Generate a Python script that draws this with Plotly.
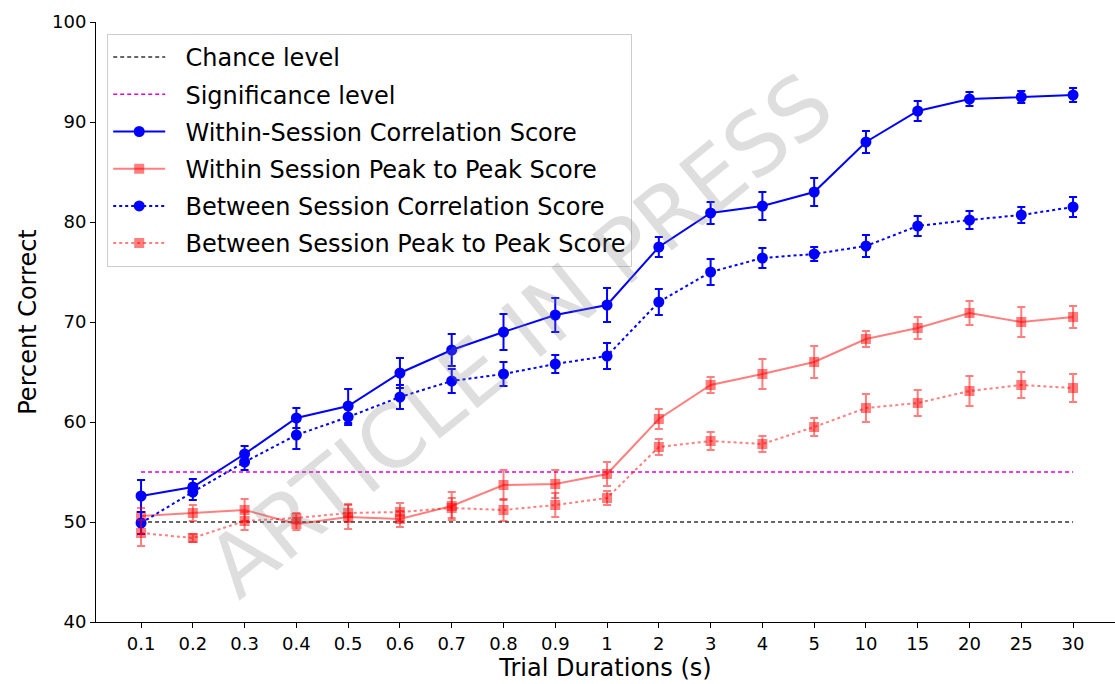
import plotly.graph_objects as go

durations = ["0.1", "0.2", "0.3", "0.4", "0.5", "0.6", "0.7", "0.8", "0.9", "1",
             "2", "3", "4", "5", "10", "15", "20", "25", "30"]

within_corr = [52.6, 53.5, 56.8, 60.4, 61.6, 64.9, 67.2, 69.0, 70.7, 71.7,
               77.5, 80.9, 81.6, 83.0, 88.0, 91.1, 92.3, 92.5, 92.7]
within_corr_err = [1.6, 0.8, 0.8, 1.0, 1.7, 1.5, 1.6, 1.8, 1.7, 1.7,
                   1.0, 1.1, 1.4, 1.4, 1.1, 1.0, 0.7, 0.6, 0.7]

within_p2p = [50.6, 50.9, 51.2, 49.8, 50.5, 50.3, 51.6, 53.7, 53.8, 54.8,
              60.3, 63.7, 64.8, 66.0, 68.3, 69.4, 70.9, 70.0, 70.5]
within_p2p_err = [0.8, 0.8, 1.1, 0.6, 1.2, 0.8, 1.4, 1.5, 1.4, 1.2,
                  1.0, 0.8, 1.5, 1.6, 0.8, 1.1, 1.2, 1.5, 1.1]

between_corr = [49.9, 53.0, 56.0, 58.7, 60.5, 62.5, 64.1, 64.8, 65.8, 66.6,
                72.0, 75.0, 76.4, 76.8, 77.6, 79.6, 80.2, 80.7, 81.5]
between_corr_err = [1.1, 0.8, 0.8, 1.4, 0.8, 1.2, 1.2, 1.2, 0.9, 1.3,
                    1.3, 1.3, 1.0, 0.7, 1.1, 1.0, 0.9, 0.8, 1.0]

between_p2p = [48.9, 48.4, 50.1, 50.4, 50.9, 51.0, 51.4, 51.2, 51.7, 52.4,
               57.5, 58.1, 57.8, 59.5, 61.4, 61.9, 63.1, 63.7, 63.4]
between_p2p_err = [1.3, 0.4, 0.9, 0.5, 0.9, 0.9, 1.0, 1.1, 1.2, 0.7,
                   0.8, 0.9, 0.8, 0.9, 1.4, 1.3, 1.5, 1.3, 1.4]

chance_level = 50
significance_level = 55

xs = list(range(len(durations)))
blue = "rgb(0,0,255)"
red = "rgba(255,0,0,0.5)"
pad = "\u00a0\u00a0"

fig = go.Figure()

fig.add_trace(go.Scatter(
    x=[xs[0], xs[-1]], y=[chance_level, chance_level], mode="lines",
    line=dict(color="rgba(0,0,0,0.8)", width=1.5, dash="4px,3px"),
    name=pad + "Chance level", legendgroup="g1"))
fig.add_trace(go.Scatter(
    x=[xs[0], xs[-1]], y=[significance_level, significance_level], mode="lines",
    line=dict(color="rgba(220,0,220,1)", width=1.5, dash="4px,3px"),
    name=pad + "Significance level", legendgroup="g2"))

def series(y, err, color, dash, symbol, name, grp):
    fig.add_trace(go.Scatter(
        x=xs, y=y, mode="lines+markers", name=pad + name, legendgroup=grp,
        line=dict(color=color, width=2, dash=dash),
        marker=dict(color=color, size=11 if symbol == "circle" else 10, symbol=symbol,
                    line=dict(width=0)),
        error_y=dict(type="data", array=err, visible=True, color=color,
                     thickness=2, width=4)))

series(within_corr, within_corr_err, blue, "solid", "circle",
       "Within-Session Correlation Score", "g3")
series(within_p2p, within_p2p_err, red, "solid", "square",
       "Within Session Peak to Peak Score", "g4")
series(between_corr, between_corr_err, blue, "dot", "circle",
       "Between Session Correlation Score", "g5")
series(between_p2p, between_p2p_err, red, "dot", "square",
       "Between Session Peak to Peak Score", "g6")

fig.add_annotation(
    text="ARTICLE IN PRESS", xref="paper", yref="paper", x=0.416, y=0.478,
    showarrow=False, textangle=-39,
    font=dict(family="DejaVu Sans", size=86, color="rgba(128,128,128,0.26)"))

fig.update_layout(
    width=1115, height=684,
    margin=dict(l=96, r=0, t=22, b=62),
    paper_bgcolor="white", plot_bgcolor="white",
    font=dict(family="DejaVu Sans", color="black"),
    showlegend=True,
    legend=dict(
        x=0.011, y=0.98, xanchor="left", yanchor="top",
        bgcolor="rgba(255,255,255,0.8)", bordercolor="#cccccc", borderwidth=1,
        font=dict(size=24, family="DejaVu Sans"),
        traceorder="grouped", tracegroupgap=3, itemwidth=52),
    xaxis=dict(
        range=[-0.87, 18.81], tickmode="array", tickvals=xs, ticktext=durations,
        showgrid=False, zeroline=False, showline=True, linecolor="black", linewidth=1,
        ticks="outside", ticklen=5, tickcolor="black", tickfont=dict(size=18),
        title=dict(text="Trial Durations (s)", font=dict(size=24), standoff=6)),
    yaxis=dict(
        range=[40, 100], tickvals=[40, 50, 60, 70, 80, 90, 100],
        showgrid=False, zeroline=False, showline=True, linecolor="black", linewidth=1,
        ticks="outside", ticklen=5, tickcolor="black", tickfont=dict(size=18),
        title=dict(text="Percent Correct", font=dict(size=24), standoff=8)),
)

fig.write_html("out.html")
